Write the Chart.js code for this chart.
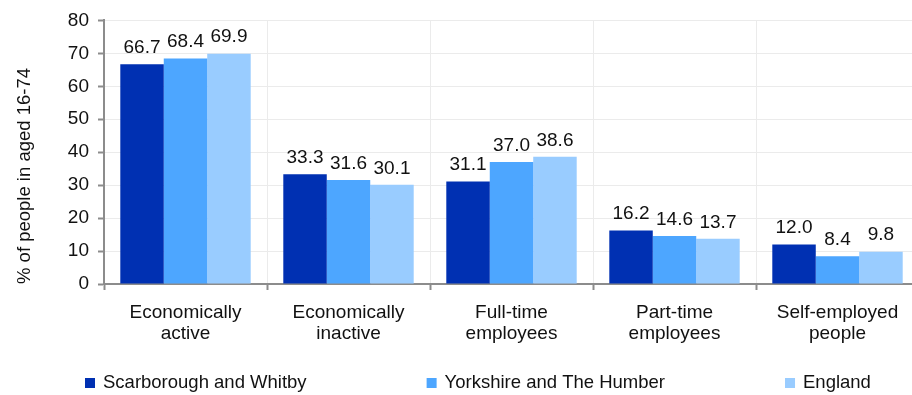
<!DOCTYPE html>
<html>
<head>
<meta charset="utf-8">
<script src="https://cdn.jsdelivr.net/npm/chart.js@4"></script>
<style>
  html, body { margin: 0; padding: 0; background: #fff; overflow: hidden; }
  #wrap { width: 912px; height: 395px; overflow: hidden; }
</style>
</head>
<body>
<div id="wrap"><canvas id="c" width="919" height="395" style="width:919px;height:395px"></canvas></div>
<script>
// Labour market indicators, % of people aged 16-74
const categories = [
  ['Economically', 'active'],
  ['Economically', 'inactive'],
  ['Full-time', 'employees'],
  ['Part-time', 'employees'],
  ['Self-employed', 'people']
];
const seriesNames = ['Scarborough and Whitby', 'Yorkshire and The Humber', 'England'];
const scarboroughWhitby = [66.7, 33.3, 31.1, 16.2, 12.0];
const yorkshireHumber   = [68.4, 31.6, 37.0, 14.6, 8.4];
const england           = [69.9, 30.1, 38.6, 13.7, 9.8];
const yTicks = [0, 10, 20, 30, 40, 50, 60, 70, 80];

const colors = ['#0030B2', '#4DA6FF', '#99CCFF'];
const FONT = "'Liberation Sans', Arial, sans-serif";
const AXIS = '#8c8c8c';
const GRID = '#ebebeb';

// value labels above each bar
const valueLabels = {
  id: 'valueLabels',
  afterDatasetsDraw(chart) {
    const ctx = chart.ctx;
    ctx.save();
    ctx.font = '19px ' + FONT;
    ctx.fillStyle = '#111';
    ctx.textAlign = 'center';
    ctx.textBaseline = 'bottom';
    chart.data.datasets.forEach((ds, i) => {
      chart.getDatasetMeta(i).data.forEach((bar, j) => {
        ctx.fillText(ds.data[j].toFixed(1), bar.x, bar.y - 7);
      });
    });
    ctx.restore();
  }
};

// legend row spread across the bottom
const bottomLegend = {
  id: 'bottomLegend',
  afterDraw(chart) {
    const ctx = chart.ctx;
    ctx.save();
    ctx.font = '18.5px ' + FONT;
    ctx.textBaseline = 'middle';
    ctx.textAlign = 'left';
    let x = 85;
    const y = 383;
    chart.data.datasets.forEach((ds) => {
      ctx.fillStyle = ds.backgroundColor;
      ctx.fillRect(x, y - 5, 10, 10);
      ctx.fillStyle = '#111';
      ctx.fillText(ds.label, x + 18, y);
      x += 18 + ctx.measureText(ds.label).width + 120;
    });
    ctx.restore();
  }
};

new Chart(document.getElementById('c'), {
  type: 'bar',
  data: {
    labels: categories,
    datasets: [
      { label: seriesNames[0], data: scarboroughWhitby, backgroundColor: colors[0] },
      { label: seriesNames[1], data: yorkshireHumber,   backgroundColor: colors[1] },
      { label: seriesNames[2], data: england,           backgroundColor: colors[2] }
    ]
  },
  options: {
    responsive: false,
    animation: false,
    devicePixelRatio: 1,
    layout: { padding: { top: 18, right: 0, bottom: 40, left: 0 } },
    datasets: { bar: { categoryPercentage: 0.8, barPercentage: 1.0, borderWidth: 0 } },
    plugins: {
      legend: { display: false },
      tooltip: { enabled: false }
    },
    scales: {
      x: {
        offset: true,
        grid: { offset: true, color: GRID, lineWidth: 1, tickColor: AXIS, tickWidth: 2, tickLength: 6 },
        border: { color: AXIS, width: 2 },
        ticks: { color: '#111', font: { family: FONT, size: 19, lineHeight: 1.1 }, padding: 12, maxRotation: 0, autoSkip: false },
        afterFit(scale) { scale.height = 395 - 40 - 284; }
      },
      y: {
        min: 0,
        max: 80,
        afterBuildTicks(scale) { scale.ticks = yTicks.map(v => ({ value: v })); },
        grid: { color: GRID, lineWidth: 1, tickColor: AXIS, tickWidth: 2, tickLength: 6 },
        border: { color: AXIS, width: 2 },
        ticks: { color: '#111', font: { family: FONT, size: 19 }, padding: 9 },
        title: {
          display: true,
          text: '% of people in aged 16-74',
          align: 'start',
          color: '#111',
          font: { family: FONT, size: 18.5 },
          padding: { top: 14, bottom: 0 }
        },
        afterFit(scale) { scale.width = 104; }
      }
    }
  },
  plugins: [valueLabels, bottomLegend]
});
</script>
</body>
</html>
